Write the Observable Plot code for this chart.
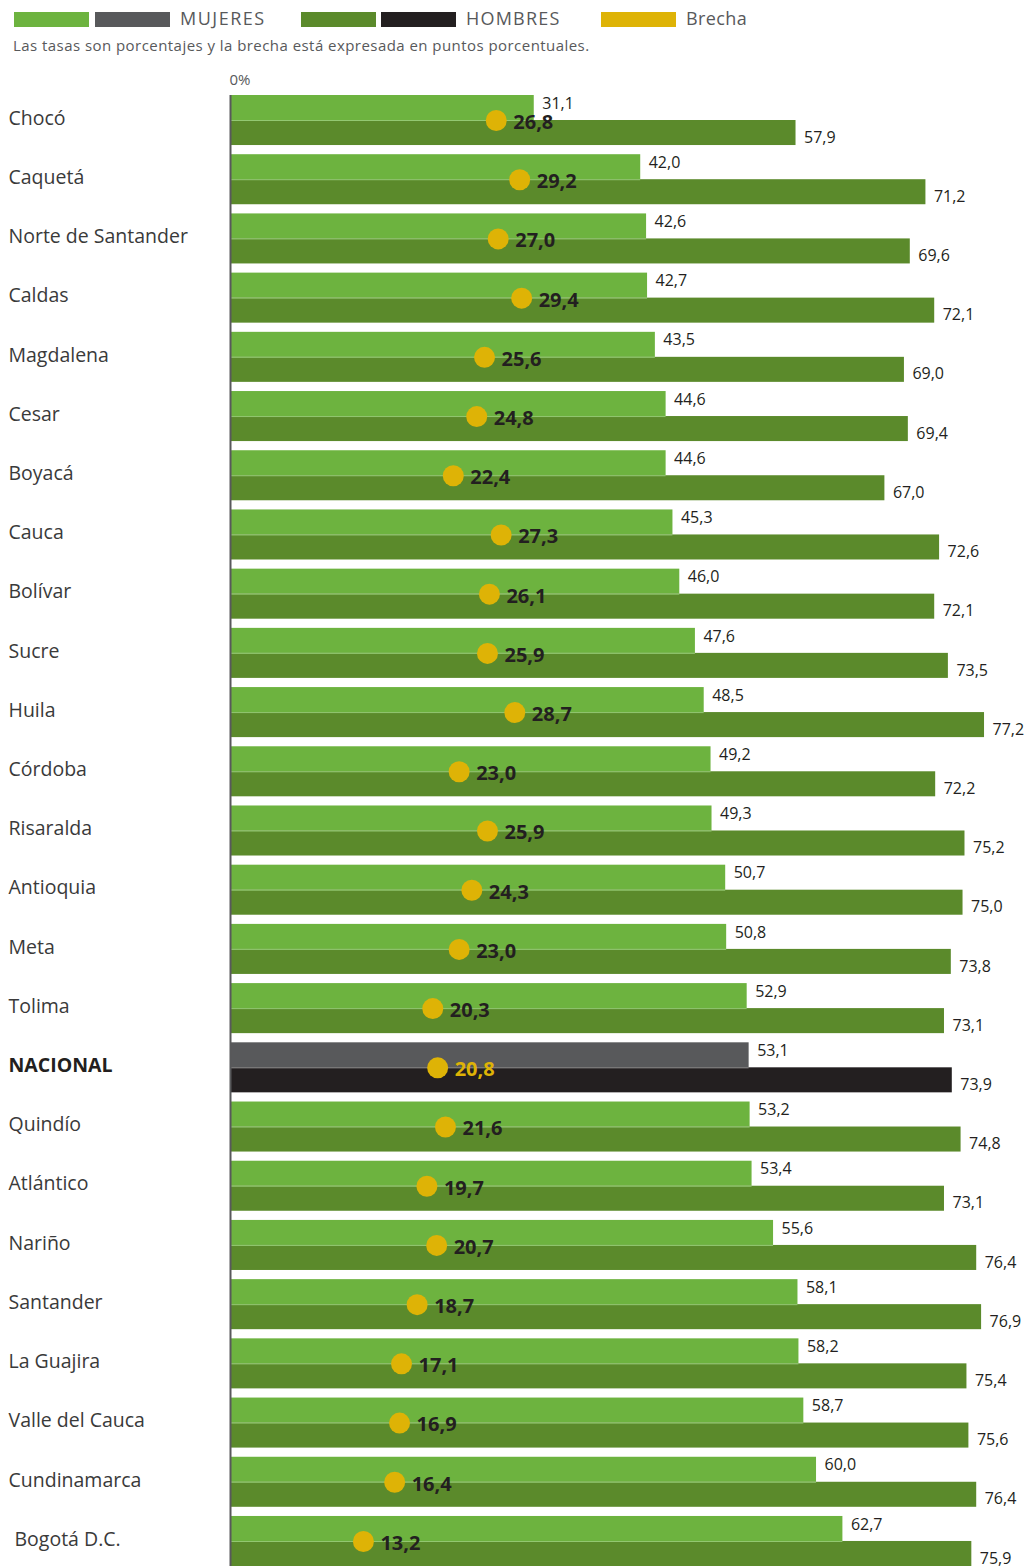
<!DOCTYPE html>
<html>
<head>
<meta charset="utf-8">
<script src="https://cdn.jsdelivr.net/npm/d3@7"></script>
<script src="https://cdn.jsdelivr.net/npm/@observablehq/plot@0.6"></script>
<style>
  body { margin: 0; background: #fff; font-family: "Open Sans", sans-serif; }
  #head { position: relative; height: 62px; width: 1027px; }
  .sw { position: absolute; top: 12px; height: 15px; width: 75px; }
  .lt { position: absolute; top: 7px; font-size: 18px; color: #58595b; line-height: 22px; }
  #sub { position: absolute; left: 13px; top: 35px; font-size: 15px; letter-spacing: 0.45px; color: #58595b; line-height: 20px; }
  #chart { width: 1027px; height: 1504px; overflow: hidden; }
  #chart svg { display: block; }
</style>
</head>
<body>
<div id="head">
  <div class="sw" style="left:14px;background:#6db33f"></div>
  <div class="sw" style="left:95px;background:#58595b"></div>
  <div class="lt" style="left:180px;letter-spacing:1.5px">MUJERES</div>
  <div class="sw" style="left:301px;background:#5b8a2b"></div>
  <div class="sw" style="left:381px;background:#231f20"></div>
  <div class="lt" style="left:466px;letter-spacing:1.2px">HOMBRES</div>
  <div class="sw" style="left:601px;background:#deb306"></div>
  <div class="lt" style="left:686px;letter-spacing:0.4px">Brecha</div>
  <div id="sub">Las tasas son porcentajes y la brecha está expresada en puntos porcentuales.</div>
</div>
<div id="chart"></div>
<script>
const categorias = ["Chocó","Caquetá","Norte de Santander","Caldas","Magdalena","Cesar","Boyacá","Cauca","Bolívar","Sucre","Huila","Córdoba","Risaralda","Antioquia","Meta","Tolima","NACIONAL","Quindío","Atlántico","Nariño","Santander","La Guajira","Valle del Cauca","Cundinamarca","Bogotá D.C."];
const mujeres = [31.1,42.0,42.6,42.7,43.5,44.6,44.6,45.3,46.0,47.6,48.5,49.2,49.3,50.7,50.8,52.9,53.1,53.2,53.4,55.6,58.1,58.2,58.7,60.0,62.7];
const hombres = [57.9,71.2,69.6,72.1,69.0,69.4,67.0,72.6,72.1,73.5,77.2,72.2,75.2,75.0,73.8,73.1,73.9,74.8,73.1,76.4,76.9,75.4,75.6,76.4,75.9];
const brecha = [26.8,29.2,27.0,29.4,25.6,24.8,22.4,27.3,26.1,25.9,28.7,23.0,25.9,24.3,23.0,20.3,20.8,21.6,19.7,20.7,18.7,17.1,16.9,16.4,13.2];

const C = { muj: "#6db33f", mujNac: "#58595b", hom: "#5b8a2b", homNac: "#231f20", brecha: "#deb306", txt: "#231f20", lab: "#3a3a3a" };
const rows = categorias.map((c, i) => ({ c, m: mujeres[i], h: hombres[i], b: brecha[i], nac: c === "NACIONAL" }));
const fmt = v => d3.format(".1f")(v).replace(".", ",");
const reg = rows.filter(d => !d.nac), nac = rows.filter(d => d.nac);
const regA = reg.filter(d => d.c !== "Bogotá D.C."), regB = reg.filter(d => d.c === "Bogotá D.C.");

const labelOpts = { y: "c", text: "c", frameAnchor: "left", dy: -2, textAnchor: "start", fontSize: 19.5, fill: C.lab, letterSpacing: "0.6px" };

const plot = Plot.plot({
  width: 1027, height: 1504,
  marginLeft: 230, marginRight: 0, marginTop: 33, marginBottom: 0,
  x: { domain: [0, 81.6], axis: null },
  y: { domain: categorias, paddingInner: 0.155, paddingOuter: 0, round: false, axis: null },
  color: { type: "identity" },
  style: { fontFamily: "'Open Sans', sans-serif", background: "white", overflow: "visible" },
  marks: [
    Plot.barX(rows, { x: "m", y: "c", fill: d => d.nac ? C.mujNac : C.muj, insetBottom: 25 }),
    Plot.barX(rows, { x: "h", y: "c", fill: d => d.nac ? C.homNac : C.hom, insetTop: 25 }),
    Plot.ruleY(rows, { y: "c", x1: 0, x2: "m", stroke: d => d.nac ? "#8a8a8a" : "#93c872", strokeWidth: 1 }),
    Plot.ruleX([0], { stroke: "#58595b", strokeWidth: 2 }),
    Plot.text(rows, { x: "m", y: "c", text: d => fmt(d.m), dx: 8, dy: -17, textAnchor: "start", fontSize: 16, fill: C.txt }),
    Plot.text(rows, { x: "h", y: "c", text: d => fmt(d.h), dx: 8, dy: 17, textAnchor: "start", fontSize: 16, fill: C.txt }),
    Plot.dot(rows, { x: "b", y: "c", r: 10.5, dx: 4, fill: C.brecha, stroke: null }),
    Plot.text(reg, { x: "b", y: "c", text: d => fmt(d.b), dx: 21, dy: 2, textAnchor: "start", fontSize: 20, fontWeight: "bold", fill: C.txt }),
    Plot.text(nac, { x: "b", y: "c", text: d => fmt(d.b), dx: 21, dy: 2, textAnchor: "start", fontSize: 20, fontWeight: "bold", fill: C.brecha }),
    Plot.text(regA, { ...labelOpts, dx: -222 }),
    Plot.text(regB, { ...labelOpts, dx: -216 }),
    Plot.text(nac, { ...labelOpts, dx: -222, fontWeight: "bold", fill: C.txt, letterSpacing: "0.4px" }),
    Plot.text(["0%"], { frameAnchor: "top-left", dx: -1, dy: -21, textAnchor: "start", fontSize: 15, fill: "#58595b" })
  ]
});
document.getElementById("chart").appendChild(plot);
</script>
</body>
</html>
